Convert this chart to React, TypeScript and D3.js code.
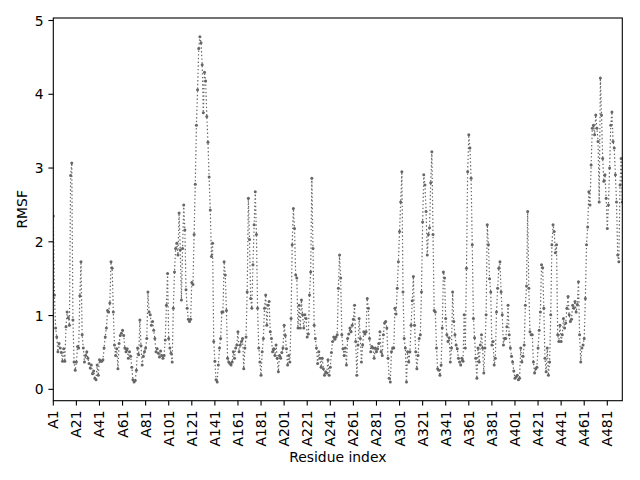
import React from 'react';
import * as d3 from 'd3';

// RMSF per residue (index 0 = residue A1)
const rmsfA1: number[] = [
  2.35, 1.28, 0.83, 0.71, 0.51, 0.62, 0.56, 0.5, 0.38, 0.55, 0.38, 0.85, 1.05, 0.97, 0.87, 2.9, 3.07, 0.94, 0.37, 0.26,
  0.37, 0.58, 0.56, 1.27, 1.73, 0.74, 0.56, 0.37, 0.46, 0.51, 0.42, 0.35, 0.29, 0.33, 0.21, 0.25, 0.15, 0.13, 0.33, 0.19,
  0.4, 0.38, 0.38, 0.4, 0.56, 0.71, 0.83, 1.07, 1.05, 1.17, 1.73, 1.64, 1.05, 0.6, 0.46, 0.55, 0.28, 0.62, 0.73, 0.76,
  0.8, 0.73, 0.56, 0.51, 0.55, 0.42, 0.51, 0.45, 0.3, 0.13, 0.1, 0.12, 0.26, 0.56, 0.47, 0.94, 0.59, 0.33, 0.45, 0.51,
  0.56, 0.69, 1.32, 1.05, 1.01, 0.87, 0.92, 0.8, 0.69, 0.51, 0.55, 0.49, 0.44, 0.52, 0.46, 0.42, 0.46, 0.67, 1.14, 1.57,
];
const rmsfA101: number[] = [
  0.69, 0.56, 0.49, 0.37, 1.1, 1.59, 1.91, 1.98, 1.82, 2.39, 1.89, 1.21, 1.91, 2.5, 2.16, 1.35, 1.1, 0.95, 0.92, 0.95,
  1.45, 1.42, 2.1, 2.78, 3.58, 4.06, 4.62, 4.78, 4.7, 4.4, 3.75, 4.3, 4.18, 3.7, 3.35, 2.88, 2.43, 1.8, 1.98, 0.65,
  0.38, 0.13, 0.1, 0.33, 0.56, 0.69, 1.05, 1.05, 1.73, 1.55, 1.07, 0.42, 0.37, 0.35, 0.33, 0.37, 0.51, 0.42, 0.56, 0.6,
  0.78, 0.51, 0.6, 0.65, 0.69, 0.28, 0.56, 0.71, 1.32, 2.59, 2.03, 1.23, 1.1, 1.69, 2.23, 2.68, 2.1, 1.1, 0.56, 0.37,
  0.19, 0.51, 0.69, 1.1, 1.28, 0.87, 1.14, 1.19, 0.78, 0.69, 0.51, 0.55, 0.46, 0.6, 0.42, 0.24, 0.46, 0.42, 0.5, 0.56,
];
const rmsfA201: number[] = [
  0.87, 0.73, 0.55, 0.33, 0.46, 0.37, 0.96, 1.96, 2.45, 2.18, 1.55, 1.51, 0.83, 1.14, 0.83, 1.21, 1.01, 0.83, 1.01, 0.96,
  0.71, 0.75, 1.28, 1.59, 2.86, 1.91, 0.87, 0.69, 0.56, 0.35, 0.51, 0.42, 0.3, 0.42, 0.28, 0.19, 0.24, 0.22, 0.4, 0.19,
  0.3, 0.5, 0.65, 0.71, 0.68, 0.71, 0.74, 1.37, 1.82, 1.51, 0.74, 0.55, 0.46, 0.56, 0.33, 0.69, 0.75, 0.83, 0.78, 0.87,
  0.95, 1.14, 0.65, 0.19, 0.6, 0.96, 0.69, 0.37, 0.6, 0.78, 0.75, 0.78, 1.23, 1.1, 0.69, 0.51, 0.58, 0.56, 0.42, 0.56,
  0.51, 0.55, 0.62, 0.78, 0.51, 0.46, 0.74, 0.9, 0.92, 0.83, 0.42, 0.15, 0.1, 0.51, 0.56, 0.56, 1.1, 1.02, 1.37, 1.73,
];
const rmsfA301: number[] = [
  2.14, 2.54, 2.95, 1.32, 0.69, 0.56, 0.1, 0.51, 0.37, 0.51, 0.87, 1.2, 1.53, 0.87, 0.51, 0.28, 0.46, 0.69, 0.74, 1.32,
  2.27, 2.91, 2.77, 2.41, 1.82, 2.1, 2.19, 2.8, 3.22, 2.1, 1.07, 1.05, 0.56, 0.28, 0.26, 0.19, 0.33, 0.83, 1.59, 1.51,
  0.96, 0.74, 0.65, 0.7, 0.37, 0.56, 1.32, 0.92, 0.74, 0.6, 0.55, 0.42, 0.37, 0.33, 0.42, 0.38, 1.01, 0.56, 1.64, 2.95,
  3.45, 3.27, 2.86, 1.96, 0.96, 0.7, 0.42, 0.15, 0.56, 0.37, 0.6, 0.74, 0.56, 0.22, 0.56, 1.01, 2.23, 1.96, 1.5, 1.32,
  0.6, 0.65, 0.33, 0.42, 1.05, 1.37, 1.64, 1.73, 1.32, 1.01, 0.6, 0.69, 0.69, 0.85, 1.14, 0.74, 0.56, 0.45, 0.37, 0.25,
];
const rmsfA401: number[] = [
  0.15, 0.17, 0.19, 0.13, 0.15, 0.56, 0.37, 0.45, 0.6, 1.14, 1.4, 2.41, 1.37, 0.78, 0.74, 0.74, 0.37, 0.22, 0.28, 0.3,
  0.56, 0.8, 1.05, 1.69, 1.65, 1.1, 0.42, 0.24, 0.56, 0.19, 0.37, 1.01, 1.96, 2.23, 2.14, 1.85, 1.96, 0.74, 0.65, 0.87,
  0.65, 0.74, 0.96, 0.83, 0.9, 1.1, 1.26, 1.01, 0.92, 0.95, 1.14, 1.1, 1.19, 1.05, 1.15, 1.46, 0.74, 0.37, 0.56, 0.6,
  0.69, 1.23, 1.96, 2.2, 2.68, 2.5, 3.04, 3.54, 3.58, 3.45, 3.72, 3.54, 3.36, 2.54, 4.22, 3.72, 3.13, 2.82, 2.91, 2.59,
  2.18, 2.5, 3.0, 3.58, 3.76, 3.36, 3.27, 2.91, 2.54, 1.82, 1.73, 2.77, 3.13, 2.54,
];

const rmsf = [...rmsfA1, ...rmsfA101, ...rmsfA201, ...rmsfA301, ...rmsfA401];

const xTickLabels = [
  'A1', 'A21', 'A41', 'A61', 'A81', 'A101', 'A121', 'A141', 'A161', 'A181', 'A201', 'A221', 'A241',
  'A261', 'A281', 'A301', 'A321', 'A341', 'A361', 'A381', 'A401', 'A421', 'A441', 'A461', 'A481',
];
const yTicks = [0, 1, 2, 3, 4, 5];

const WIDTH = 640;
const HEIGHT = 480;
const plot = { left: 53.3, right: 622.3, top: 18, bottom: 400.7 };
const FONT = '"DejaVu Sans", sans-serif';
const color = '#666666';

const App: React.FC = () => {
  const x = d3.scaleLinear().domain([0, rmsf.length - 1]).range([plot.left, plot.right]);
  const y = d3.scaleLinear().domain([-0.154, 5.034]).range([plot.bottom, plot.top]);

  const line = d3.line<number>()
    .x((_, i) => x(i))
    .y(d => y(d));

  const tickLen = 4.9;

  return (
    <svg
      width={WIDTH}
      height={HEIGHT}
      style={{ position: 'absolute', left: 0, top: 0, background: '#fff' }}
      fontFamily={FONT}
    >
      <defs>
        <clipPath id="plot-area">
          <rect x={plot.left} y={plot.top} width={plot.right - plot.left} height={plot.bottom - plot.top} />
        </clipPath>
      </defs>

      <g clipPath="url(#plot-area)">
        <path
          d={line(rmsf) || ''}
          fill="none"
          stroke={color}
          strokeWidth={1.2}
          strokeDasharray="1.4,2.3"
        />
        {rmsf.map((v, i) => (
          <circle key={i} cx={x(i)} cy={y(v)} r={1.5} fill={color} />
        ))}
      </g>

      {/* spines */}
      <rect
        x={plot.left}
        y={plot.top}
        width={plot.right - plot.left}
        height={plot.bottom - plot.top}
        fill="none"
        stroke="#000"
        strokeWidth={1.1}
      />

      {/* x axis */}
      {xTickLabels.map(label => {
        const idx = parseInt(label.slice(1), 10) - 1;
        const px = x(idx);
        return (
          <g key={label}>
            <line x1={px} x2={px} y1={plot.bottom} y2={plot.bottom + tickLen} stroke="#000" strokeWidth={1.1} />
            <text
              transform={`translate(${px}, ${plot.bottom + tickLen + 4.9}) rotate(-90)`}
              textAnchor="end"
              dy="0.36em"
              fontSize={13.9}
              fill="#000"
            >
              {label}
            </text>
          </g>
        );
      })}
      <text x={(plot.left + plot.right) / 2} y={461.5} textAnchor="middle" fontSize={13.9} fill="#000">
        Residue index
      </text>

      {/* y axis */}
      {yTicks.map(t => (
        <g key={t}>
          <line x1={plot.left - tickLen} x2={plot.left} y1={y(t)} y2={y(t)} stroke="#000" strokeWidth={1.1} />
          <text x={plot.left - tickLen - 4.9} y={y(t)} dy="0.36em" textAnchor="end" fontSize={13.9} fill="#000">
            {t}
          </text>
        </g>
      ))}
      <text
        transform={`translate(27, ${(plot.top + plot.bottom) / 2}) rotate(-90)`}
        textAnchor="middle"
        fontSize={13.9}
        fill="#000"
      >
        RMSF
      </text>
    </svg>
  );
};

export default App;
